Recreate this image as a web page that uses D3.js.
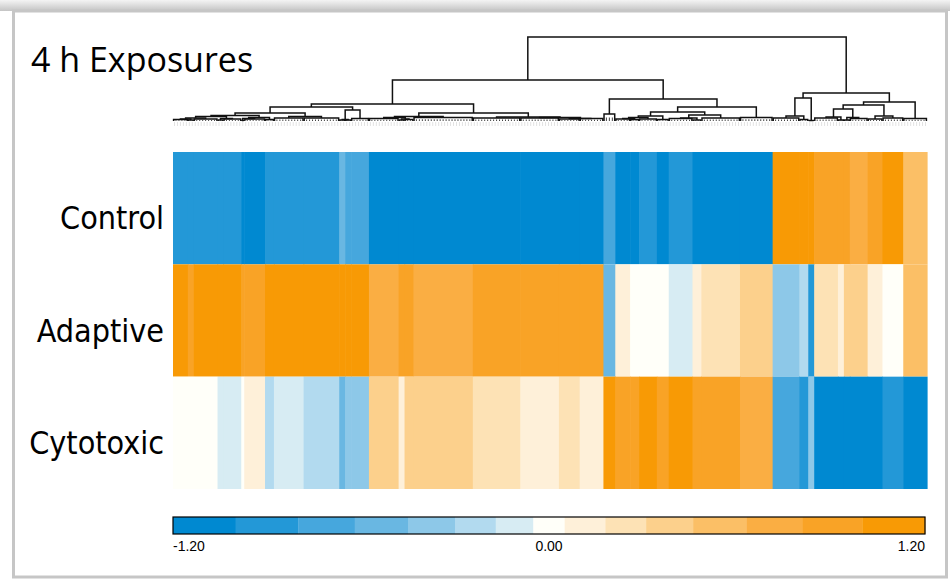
<!DOCTYPE html>
<html>
<head>
<meta charset="utf-8">
<script src="https://d3js.org/d3.v7.min.js"></script>
<style>
  body { margin: 0; background: #fff; }
  .title { font-family: 'Open Sans', sans-serif; font-size: 34px; fill: #000; }
  .row-label { font-family: 'DejaVu Sans Condensed', 'DejaVu Sans', sans-serif; font-size: 32px; fill: #000; }
  .legend-label { font-family: 'Liberation Sans', Arial, sans-serif; font-size: 14px; fill: #000; }
  .dendro { fill: none; stroke: #111; stroke-width: 1.5px; }
</style>
</head>
<body>
<div id="chart"></div>
<script>
// exposure classes (heatmap rows)
var rows = ["Control", "Adaptive", "Cytotoxic"];

// gene clusters in dendrogram order: number of genes in each
var clusterSize = [5, 2, 8, 2, 6, 1, 7, 3, 10, 12,
                   2, 2, 6, 10, 2, 3, 20, 16, 13, 7,
                   8, 4, 5, 3, 6, 4, 8, 3, 13, 11,
                   9, 3, 2, 8, 2, 2, 6, 5, 7, 8];

// mean log ratio of each cluster, one array per row
var control = [-0.9, -0.88, -0.9, -0.92, -0.9, -1.1, -1.1, -0.9, -0.9, -0.88,
               -0.54, -0.7, -0.71, -1.1, -1.1, -1.1, -1.1, -1.1, -1.1, -1.1,
               -1.1, -0.71, -1.1, -1.1, -0.9, -1.1, -0.9, -1.1, -1.1, -1.1,
               1.1, 1.1, 1.1, 0.9, 0.9, 0.88, 0.72, 0.9, 1.1, 0.54];
var adaptive = [1.1, 0.92, 1.1, 1.1, 1.1, 0.9, 0.9, 1.1, 1.1, 1.1,
                1.1, 1.1, 1.1, 0.72, 0.86, 0.85, 0.72, 0.9, 0.9, 0.9,
                0.9, -0.5, 0.1, 0.02, 0.01, 0.03, -0.1, 0.12, 0.24, 0.38,
                -0.38, -0.24, -0.9, 0.24, 0.12, 0.38, 0.38, 0.1, 0.02, 0.55];
var cytotoxic = [0.01, 0.02, 0.0, -0.12, -0.1, 0.02, 0.1, -0.25, -0.12, -0.24,
                 -0.55, -0.4, -0.38, 0.38, 0.12, 0.38, 0.37, 0.24, 0.11, 0.24,
                 0.12, 1.1, 0.9, 0.92, 1.1, 0.9, 1.1, 0.92, 0.9, 0.72,
                 -0.72, -0.9, -0.38, -1.1, -1.1, -1.1, -1.1, -1.1, -0.9, -1.1];

// colour key: class breaks and colours, labelled ticks
var breaks = [-1.0, -0.8, -0.62, -0.45, -0.3, -0.17, -0.05, 0.05, 0.18, 0.31, 0.46, 0.63, 0.81, 1.0];
var palette = ["#0089d1", "#2398d7", "#46a7dd", "#69b7e2", "#8dc8e8", "#b2daef", "#d7ecf3", "#fffff9",
               "#fef0d9", "#fde2b5", "#fcd08c", "#fbbf66", "#faae43", "#f9a326", "#f89a05"];
var keyTicks = [-1.2, 0, 1.2];

// within-cluster merge height of each gene cluster
var leafHeight = [0.15, 0.1, 0.2, 0.1, 0.2, 0.05, 0.2, 0.15, 0.3, 0.3,
                  0.1, 0.1, 0.25, 0.25, 0.1, 0.15, 0.35, 0.3, 0.3, 0.2,
                  0.25, 0.7, 0.2, 0.15, 0.2, 0.15, 0.25, 0.1, 0.3, 0.35,
                  0.3, 0.15, 0.05, 0.3, 0.1, 0.1, 0.25, 0.2, 0.3, 0.25];

// linkage tree over the clusters: [height, left, right]
var linkage = [8.4,
  [4.1,
    [1.7,
      [1.4,
        [0.8,
          [0.55, [0.45, [0.3, [0.2, 0, 1], 2], [0.25, 3, 4]], [0.35, [0.25, 5, 6], 7]],
          [0.45, 8, 9]],
        [1.1, [0.15, 10, 11], 12]],
      [0.8,
        [0.45, [0.35, 13, [0.2, 14, 15]], 16],
        [0.4, 17, [0.35, 18, [0.25, 19, 20]]]]],
    [2.2, 21,
      [1.4,
        [0.9, [0.5, [0.35, [0.25, 22, 23], 24], 25], [0.6, [0.3, 26, 27], 28]],
        29]]],
  [2.8,
    [2.3, [0.5, 30, 31], 32],
    [1.9,
      [1.6, [1.2, [0.4, 33, 34], [0.35, 35, 36]], [0.5, 37, 38]],
      39]]];

var width = 950, height = 582;

var svg = d3.select("#chart").append("svg")
    .attr("width", width)
    .attr("height", height);

// slide frame
var defs = svg.append("defs");
var grad = defs.append("linearGradient").attr("id", "topshade")
    .attr("x1", 0).attr("y1", 0).attr("x2", 0).attr("y2", 1);
grad.append("stop").attr("offset", "0%").attr("stop-color", "#f4f4f4");
grad.append("stop").attr("offset", "100%").attr("stop-color", "#c4c4c4");

svg.append("rect").attr("x", 0).attr("y", 0).attr("width", width).attr("height", 11)
    .attr("fill", "url(#topshade)");
svg.append("rect")
    .attr("x", 13.5).attr("y", 11)
    .attr("width", 933).attr("height", 566)
    .attr("fill", "#fff")
    .attr("stroke", "#c6c6c6")
    .attr("stroke-width", 3);

// gene start offsets
var starts = [];
var acc = 0;
clusterSize.forEach(function(n) { starts.push(acc); acc += n; });
var nGenes = acc;

var x = d3.scaleLinear().domain([0, nGenes]).range([173, 927]);
var y = d3.scaleBand().domain(rows).range([152, 489]);
var color = d3.scaleThreshold().domain(breaks).range(palette);
var hy = d3.scaleLinear().domain([0, 8.4]).range([121, 37]);

var values = { "Control": control, "Adaptive": adaptive, "Cytotoxic": cytotoxic };

// heatmap cells
rows.forEach(function(r) {
  svg.append("g").selectAll("rect")
      .data(values[r])
      .join("rect")
      .attr("x", function(d, i) { return x(starts[i]); })
      .attr("width", function(d, i) { return x(starts[i] + clusterSize[i]) - x(starts[i]) + 0.6; })
      .attr("y", y(r))
      .attr("height", y.bandwidth())
      .attr("fill", function(d) { return color(d); });
});

// row labels
svg.append("g").selectAll("text")
    .data(rows)
    .join("text")
    .attr("class", "row-label")
    .attr("x", 164)
    .attr("y", function(d) { return y(d) + y.bandwidth() / 2 + 21; })
    .attr("text-anchor", "end")
    .text(function(d) { return d; });

// title
svg.append("text")
    .attr("class", "title")
    .attr("x", 31)
    .attr("y", 72)
    .text("4 h Exposures");

// faint leaf ticks under the dendrogram
svg.append("g").selectAll("line")
    .data(d3.range(nGenes))
    .join("line")
    .attr("x1", function(d) { return x(d + 0.5); })
    .attr("x2", function(d) { return x(d + 0.5); })
    .attr("y1", hy(0) + 1)
    .attr("y2", hy(0) + 5)
    .attr("stroke", "#e2e2e2")
    .attr("stroke-width", 1);

// dendrogram
var dg = svg.append("g").attr("class", "dendro");

function drawNode(node) {
  if (typeof node === "number") {
    var s = starts[node], n = clusterSize[node], h = leafHeight[node];
    var x0 = x(s + 0.2), x1 = x(s + n - 0.2);
    dg.append("path")
        .attr("d", "M" + x0 + "," + hy(0) + "V" + hy(h) + "H" + x1 + "V" + hy(0));
    // genes merging inside the cluster
    d3.range(1, n).forEach(function(k) {
      dg.append("line")
          .attr("x1", x(s + k)).attr("x2", x(s + k))
          .attr("y1", hy(0)).attr("y2", hy(h * 0.5))
          .attr("stroke-width", 0.8);
    });
    return { x: x(s + n / 2), h: h };
  }
  var a = drawNode(node[1]), b = drawNode(node[2]);
  dg.append("path")
      .attr("d", "M" + a.x + "," + hy(a.h) + "V" + hy(node[0]) + "H" + b.x + "V" + hy(b.h));
  return { x: (a.x + b.x) / 2, h: node[0] };
}
drawNode(linkage);

// colour key
var kx = d3.scaleLinear().domain([-1.2, 1.2]).range([173, 925]);
var edges = [-1.2].concat(breaks).concat([1.2]);
var key = svg.append("g");
key.selectAll("rect")
    .data(palette)
    .join("rect")
    .attr("x", function(d, i) { return kx(edges[i]); })
    .attr("width", function(d, i) { return kx(edges[i + 1]) - kx(edges[i]) + 0.3; })
    .attr("y", 517)
    .attr("height", 17)
    .attr("fill", function(d) { return d; });
key.append("rect")
    .attr("x", kx(-1.2)).attr("y", 517)
    .attr("width", kx(1.2) - kx(-1.2)).attr("height", 17)
    .attr("fill", "none")
    .attr("stroke", "#000")
    .attr("stroke-width", 1.2);
key.selectAll("text")
    .data(keyTicks)
    .join("text")
    .attr("class", "legend-label")
    .attr("x", function(d) { return kx(d); })
    .attr("y", 551)
    .attr("text-anchor", function(d, i) { return i === 0 ? "start" : (i === keyTicks.length - 1 ? "end" : "middle"); })
    .text(function(d) { return d3.format(".2f")(d).replace("\u2212", "-"); });
</script>
</body>
</html>
